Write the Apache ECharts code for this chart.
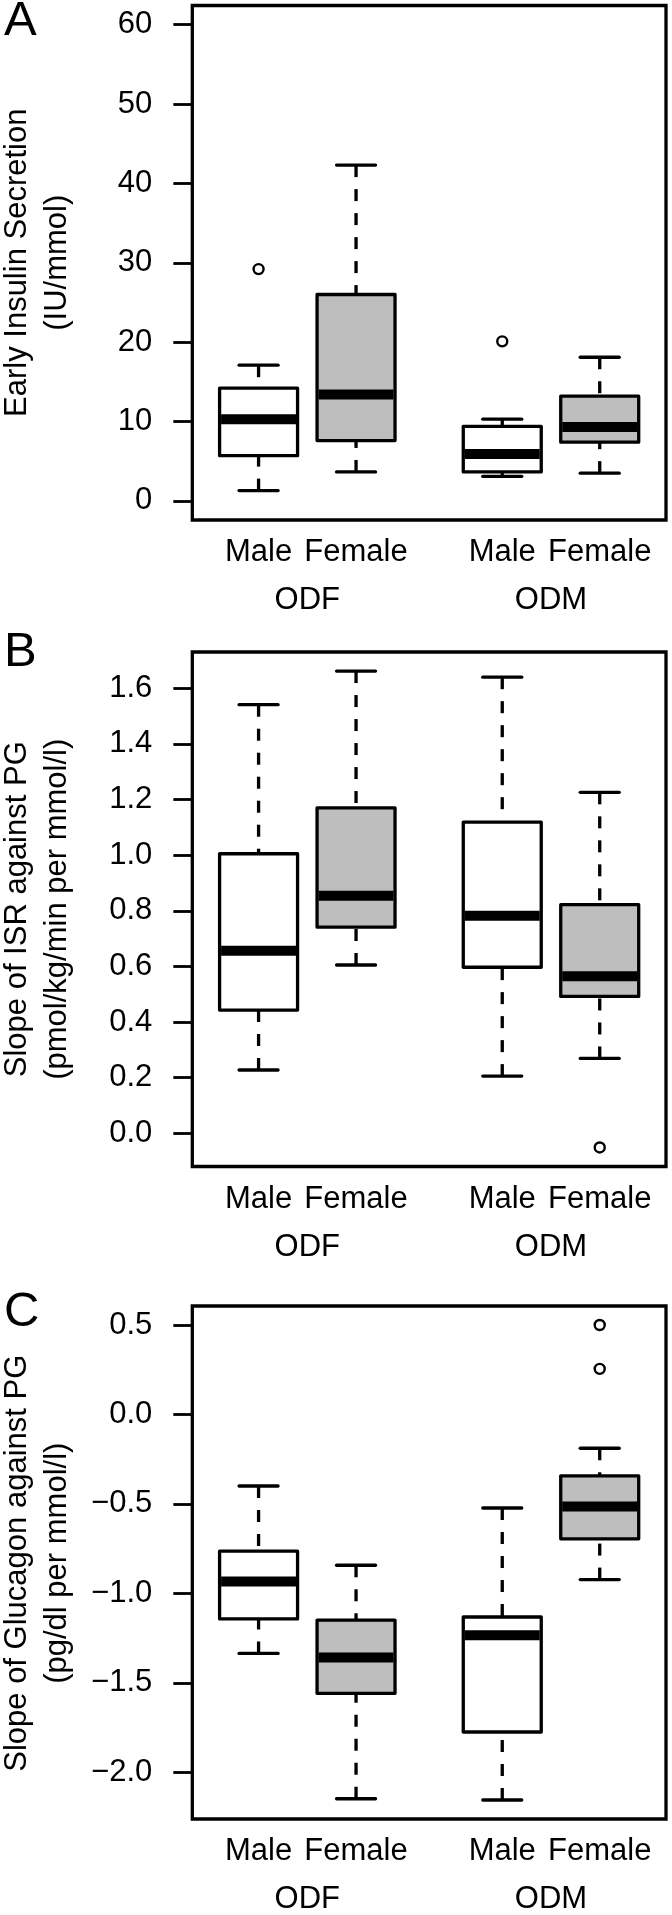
<!DOCTYPE html>
<html><head><meta charset="utf-8">
<script src="https://cdn.jsdelivr.net/npm/echarts@6.0.0/dist/echarts.min.js"></script>
<style>html,body{margin:0;padding:0;background:#fff}#c{width:672px;height:1915px}</style>
</head><body><div id="c"></div>
<script>
// ---- categories ----
const groups = ['Male', 'Female', 'Male', 'Female'];
const groupPos = [1, 2, 3.5, 4.5];
const cohorts = ['ODF', 'ODM'];
const cohortPos = [1.5, 4];
const filled = [0, 1, 0, 1];

// ---- panel A: Early Insulin Secretion (IU/mmol) [min, Q1, median, Q3, max] ----
const insulinBoxes = [
  [1.3, 5.7, 10.3, 14.2, 17.1],
  [3.65, 7.6, 13.4, 26.0, 42.3],
  [3.1, 3.65, 5.9, 9.4, 10.3],
  [3.5, 7.4, 9.3, 13.2, 18.1]
];
const insulinOutliers = [[29.2], [], [20.1], []];
const insulinTicks = [0, 10, 20, 30, 40, 50, 60];

// ---- panel B: Slope of ISR against PG ----
const isrBoxes = [
  [0.2275, 0.443, 0.656, 1.005, 1.541],
  [0.605, 0.741, 0.854, 1.170, 1.662],
  [0.2055, 0.597, 0.782, 1.119, 1.640],
  [0.269, 0.492, 0.565, 0.822, 1.226]
];
const isrOutliers = [[], [], [], [-0.051]];
const isrTicks = [0, 0.2, 0.4, 0.6, 0.8, 1.0, 1.2, 1.4, 1.6];

// ---- panel C: Slope of Glucagon against PG ----
const glucagonBoxes = [
  [-1.336, -1.143, -0.934, -0.764, -0.400],
  [-2.148, -1.559, -1.359, -1.150, -0.843],
  [-2.155, -1.775, -1.234, -1.132, -0.523],
  [-0.923, -0.695, -0.514, -0.343, -0.189]
];
const glucagonOutliers = [[], [], [], [0.5, 0.255]];
const glucagonTicks = [-2.0, -1.5, -1.0, -0.5, 0.0, 0.5];

const FONT = "'Liberation Sans', Arial, sans-serif";

function extRange(boxes, outs) {
  let lo = Infinity, hi = -Infinity;
  boxes.forEach(b => b.forEach(v => { lo = Math.min(lo, v); hi = Math.max(hi, v); }));
  outs.forEach(o => o.forEach(v => { lo = Math.min(lo, v); hi = Math.max(hi, v); }));
  const d = (hi - lo) * 0.04;
  return [lo - d, hi + d];
}

const panels = [
  { letter: 'A', title: ['Early Insulin Secretion', '(IU/mmol)'], boxes: insulinBoxes, outs: insulinOutliers,
    ticks: insulinTicks, range: [-2.4, 62.4], fmt: v => String(Math.round(v)), top: 5.5, letterY: 21 },
  { letter: 'B', title: ['Slope of ISR against PG', '(pmol/kg/min per mmol/l)'], boxes: isrBoxes, outs: isrOutliers,
    ticks: isrTicks, range: extRange(isrBoxes, isrOutliers), fmt: v => v.toFixed(1), top: 652, letterY: 652 },
  { letter: 'C', title: ['Slope of Glucagon against PG', '(pg/dl per mmol/l)'], boxes: glucagonBoxes, outs: glucagonOutliers,
    ticks: glucagonTicks, range: extRange(glucagonBoxes, glucagonOutliers),
    fmt: v => (v < 0 ? '\u2212' : '') + Math.abs(v).toFixed(1), top: 1306, letterY: 1312 }
];

const GL = 192.3, GW = 473.7, GH = 514.5;
const XMIN = 0.32, XMAX = 5.18;
const LW = 3.3;

function boxRender(params, api) {
  const x = api.value(0);
  const lo = api.coord([x, api.value(1)]);
  const q1 = api.coord([x, api.value(2)]);
  const md = api.coord([x, api.value(3)]);
  const q3 = api.coord([x, api.value(4)]);
  const hi = api.coord([x, api.value(5)]);
  const w = api.size([0.8, 0])[0];
  const cx = lo[0], l = cx - w / 2, r = cx + w / 2, sw = w / 4;
  const fill = api.value(6) ? '#bebebe' : '#ffffff';
  const dash = { stroke: '#000', lineWidth: LW, lineDash: [12, 12], lineCap: 'butt' };
  const solid = { stroke: '#000', lineWidth: LW, lineCap: 'round' };
  return { type: 'group', children: [
    { type: 'line', shape: { x1: cx, y1: hi[1], x2: cx, y2: q3[1] }, style: dash },
    { type: 'line', shape: { x1: cx, y1: lo[1], x2: cx, y2: q1[1] }, style: dash },
    { type: 'line', shape: { x1: cx - sw, y1: hi[1], x2: cx + sw, y2: hi[1] }, style: solid },
    { type: 'line', shape: { x1: cx - sw, y1: lo[1], x2: cx + sw, y2: lo[1] }, style: solid },
    { type: 'rect', shape: { x: l, y: q3[1], width: w, height: q1[1] - q3[1] },
      style: { fill: fill, stroke: '#000', lineWidth: LW, lineJoin: 'round' } },
    { type: 'line', shape: { x1: l + 1.5, y1: md[1], x2: r - 1.5, y2: md[1] },
      style: { stroke: '#000', lineWidth: 10, lineCap: 'butt' } }
  ]};
}

const grid = [], xAxis = [], yAxis = [], series = [], graphic = [];
panels.forEach((p, i) => {
  grid.push({ left: GL, top: p.top, width: GW, height: GH, show: true,
    borderColor: '#000', borderWidth: LW, backgroundColor: 'transparent' });
  xAxis.push({ type: 'value', gridIndex: i, min: XMIN, max: XMAX,
    axisLine: { show: false }, axisTick: { show: false }, splitLine: { show: false },
    axisLabel: { customValues: groupPos, margin: 17, fontSize: 31, fontFamily: FONT, color: '#000',
      formatter: v => groups[groupPos.indexOf(v)] } });
  xAxis.push({ type: 'value', gridIndex: i, min: XMIN, max: XMAX, position: 'bottom',
    axisLine: { show: false }, axisTick: { show: false }, splitLine: { show: false },
    axisLabel: { customValues: cohortPos, margin: 65, fontSize: 31, fontFamily: FONT, color: '#000',
      formatter: v => cohorts[cohortPos.indexOf(v)] } });
  yAxis.push({ type: 'value', gridIndex: i, min: p.range[0], max: p.range[1],
    axisLine: { show: false }, splitLine: { show: false },
    axisTick: { show: true, customValues: p.ticks, length: 19, lineStyle: { color: '#000', width: 2.8 } },
    axisLabel: { customValues: p.ticks, margin: 40, fontSize: 31, fontFamily: FONT, color: '#000', formatter: p.fmt } });
  series.push({ type: 'custom', xAxisIndex: 2 * i, yAxisIndex: i, renderItem: boxRender,
    encode: { x: 0, y: [1, 2, 3, 4, 5] }, clip: false,
    data: p.boxes.map((b, k) => [groupPos[k], b[0], b[1], b[2], b[3], b[4], filled[k]]) });
  const od = [];
  p.outs.forEach((o, k) => o.forEach(v => od.push([groupPos[k], v])));
  series.push({ type: 'scatter', xAxisIndex: 2 * i, yAxisIndex: i, data: od, symbol: 'circle', symbolSize: 10,
    itemStyle: { color: '#fff', borderColor: '#000', borderWidth: 2.4, opacity: 1 }, z: 5 });
  const cy = p.top + GH / 2;
  graphic.push({ type: 'text', left: 4, top: p.letterY - 24,
    style: { text: p.letter, fontSize: 49, fontFamily: FONT, fill: '#000' } });
  graphic.push({ type: 'text', x: 17, y: cy, rotation: Math.PI / 2,
    style: { text: p.title[0], fontSize: 31, fontFamily: FONT, fill: '#000', align: 'center', verticalAlign: 'middle' } });
  graphic.push({ type: 'text', x: 57.6, y: cy, rotation: Math.PI / 2,
    style: { text: p.title[1], fontSize: 31, fontFamily: FONT, fill: '#000', align: 'center', verticalAlign: 'middle' } });
});

const chart = echarts.init(document.getElementById('c'), null, { renderer: 'canvas' });
chart.setOption({ animation: false, backgroundColor: '#fff', grid, xAxis, yAxis, series, graphic });
</script></body></html>
